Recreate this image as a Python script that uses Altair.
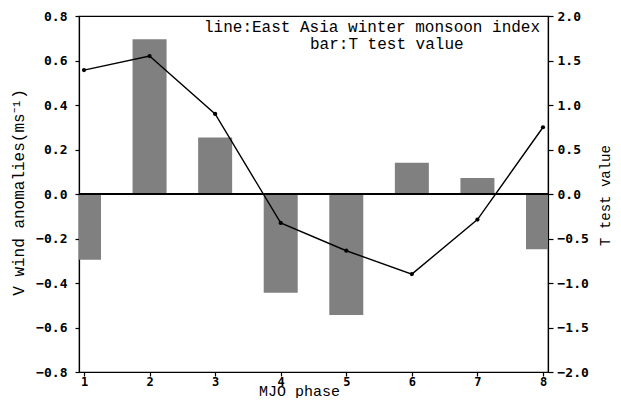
import altair as alt
import pandas as pd

phases = [1, 2, 3, 4, 5, 6, 7, 8]
eawm_index = [0.557, 0.62, 0.36, -0.13, -0.255, -0.36, -0.115, 0.30]
t_values = [-0.74, 1.74, 0.635, -1.11, -1.36, 0.35, 0.18, -0.62]
left_ticks = [-0.8, -0.6, -0.4, -0.2, 0.0, 0.2, 0.4, 0.6, 0.8]
right_ticks = [-2.0, -1.5, -1.0, -0.5, 0.0, 0.5, 1.0, 1.5, 2.0]
note_lines = ["line:East Asia winter monsoon index", "bar:T test value"]

df = pd.DataFrame({"phase": phases, "eawm": eawm_index, "t": t_values})

LABEL_FONT = "DejaVu Sans Mono"
TITLE_FONT = "Liberation Mono"

x_enc = alt.X(
    "phase:Q",
    scale=alt.Scale(domain=[1, 8], nice=False, zero=False),
    axis=alt.Axis(
        values=phases, format="d", title="MJO phase", grid=False,
        tickSize=4, labelPadding=0, labelFontSize=12,
        titleX=220, titleY=23, titleBaseline="alphabetic", titleAlign="center",
        titleFont=TITLE_FONT, titleFontSize=15,
    ),
)

base = alt.Chart(df)

bars = base.mark_bar(color="#808080", size=34, clip=True).encode(
    x=x_enc,
    y=alt.Y(
        "t:Q",
        scale=alt.Scale(domain=[-2, 2], nice=False),
        axis=alt.Axis(
            orient="right", values=right_ticks, format=".1f",
            title="T test value", grid=False, tickSize=5, labelPadding=4,
            titleAngle=270, titleX=57, titleY=179, titleAlign="center",
            titleBaseline="middle", titleFont=TITLE_FONT, titleFontSize=14,
        ),
    ),
)

zero = base.transform_calculate(zero="0").mark_rule(
    color="black", strokeWidth=1.2
).encode(y=alt.Y("zero:Q", scale=alt.Scale(domain=[-2, 2], nice=False), axis=None))

line = base.mark_line(
    color="black", strokeWidth=1.4,
    point=alt.OverlayMarkDef(filled=True, color="black", size=18),
).encode(
    x=x_enc,
    y=alt.Y(
        "eawm:Q",
        scale=alt.Scale(domain=[-0.8, 0.8], nice=False),
        axis=alt.Axis(
            orient="left", values=left_ticks, format=".1f",
            title="V wind anomalies(ms⁻¹)", grid=False, tickSize=4,
            labelPadding=8, titleAngle=270, titleX=-61, titleY=176,
            titleAlign="center", titleBaseline="middle",
            titleFont=TITLE_FONT, titleFontSize=16,
        ),
    ),
)

note1 = alt.Chart(pd.DataFrame({"txt": [note_lines[0]]})).mark_text(
    align="left", baseline="middle", font=TITLE_FONT, fontSize=16, color="black"
).encode(text="txt:N", x=alt.value(125), y=alt.value(11))

note2 = alt.Chart(pd.DataFrame({"txt": [note_lines[1]]})).mark_text(
    align="left", baseline="middle", font=TITLE_FONT, fontSize=16, color="black"
).encode(text="txt:N", x=alt.value(231), y=alt.value(28))

chart = (
    alt.layer(bars, zero, line, note1, note2)
    .resolve_scale(y="independent")
    .properties(
        width=469, height=356,
        autosize=alt.AutoSizeParams(type="none"),
        padding={"left": 71, "top": 8, "right": 65, "bottom": 26},
        background="white",
    )
    .configure_view(stroke="black", strokeWidth=1.2)
    .configure_axis(
        domainColor="black", domainWidth=1.2, tickColor="black", tickWidth=1.2,
        labelColor="black", titleColor="black",
        labelFont=LABEL_FONT, labelFontWeight="bold", labelFontSize=13,
        titleFontWeight="normal",
    )
)

chart.save("out.html", embed_options={"renderer": "svg", "actions": False})
